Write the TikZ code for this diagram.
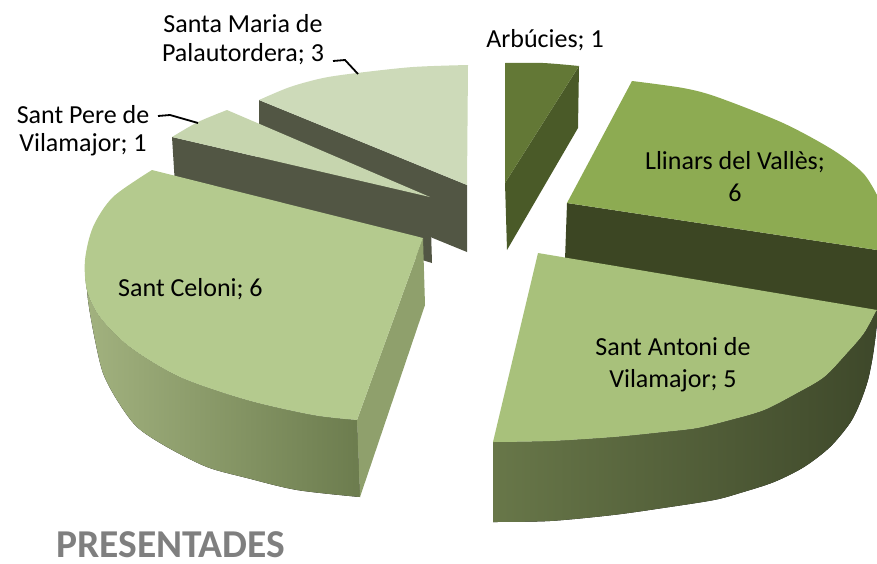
\documentclass[tikz,border=0pt]{standalone}
\usepackage{fontspec}
\setmainfont{Carlito}
\usetikzlibrary{calc}
\definecolor{smTop}{HTML}{CDDAB9}
\definecolor{spTop}{HTML}{C6D5AE}
\definecolor{darkSide}{HTML}{525644}
\definecolor{arbTop}{HTML}{637836}
\definecolor{arbSide}{HTML}{4A5A28}
\definecolor{llTop}{HTML}{8DAB52}
\definecolor{llSide}{HTML}{3C4623}
\definecolor{saTop}{HTML}{A8C17B}
\definecolor{saOutL}{HTML}{687749}
\definecolor{saOutR}{HTML}{3E482A}
\definecolor{scTop}{HTML}{B4CA8E}
\definecolor{scOutL}{HTML}{A2B27F}
\definecolor{scOutR}{HTML}{6C7C4E}
\definecolor{scRad}{HTML}{8FA06C}
\definecolor{titleGray}{HTML}{7F7F7F}
\tikzset{
  lbl/.style={inner sep=0pt, text=black, align=center},
  leader/.style={draw=black, line width=1.8pt},
}
\begin{document}
\begin{tikzpicture}[x=1pt,y=-1pt]
\useasboundingbox (0,0) rectangle (877,563);
\clip (0,0) rectangle (877,563);
% Santa Maria de Palautordera
\fill[darkSide] (259,100) -- (467,185) -- (467,252) -- (259,167) -- cycle;
\fill[smTop] (259,100) -- plot[smooth] coordinates {(259,100) (290,87) (323,78) (357,73) (413,67) (468,65)} -- (467,185) -- cycle;
% Sant Pere de Vilamajor
\fill[darkSide] (172,137) -- (430,197) -- (432,263) -- (175,185) -- cycle;
\fill[spTop] (172,137) -- plot[smooth] coordinates {(172,137) (198,122) (227,110)} -- (430,197) -- cycle;
% Sant Celoni
\fill[left color=scOutL, right color=scOutR] (85,258) -- plot[smooth] coordinates {(85,258) (87,290) (100,317) (130,347) (180,377) (247,400) (313,415) (357,420)} -- (360,497) -- plot[smooth] coordinates {(360,497) (297,490) (247,478) (207,467) (167,447) (137,427) (117,400) (103,373) (95,340) (88,300) (85,258)} -- cycle;
\fill[scRad] (423,238) -- (425,305) -- (360,497) -- (357,420) -- cycle;
\fill[scTop] (152,170) -- plot[smooth] coordinates {(152,170) (113,197) (93,227) (85,260) (87,290) (100,317) (130,347) (180,377) (247,400) (313,415) (357,420)} -- (423,238) -- cycle;
% Arbucies
\fill[arbSide] (579,66) -- (578,128) -- (507,250) -- (505,183) -- cycle;
\fill[arbTop] (505,63) -- plot[smooth] coordinates {(505,63) (543,63) (579,66)} -- (505,183) -- cycle;
% Llinars del Valles
\fill[llSide] (567,203) -- (877,250) -- (877,318) -- (565,260) -- cycle;
\fill[llTop] (632,81) -- plot[smooth] coordinates {(632,81) (683,88) (717,97) (783,123) (833,150) (863,173) (877,195)} -- (877,250) -- (567,203) -- cycle;
% Sant Antoni de Vilamajor
\fill[left color=saOutL, right color=saOutR] (493,442) -- plot[smooth] coordinates {(493,442) (550,441) (613,437) (663,432) (697,428) (730,420) (764,410) (797,393) (824,377) (847,353) (864,333) (876,311)} -- (877,311) -- (877,325) -- plot[smooth] coordinates {(877,325) (873,355) (868,380) (860,403) (850,423) (830,447) (804,467) (774,482) (740,493) (714,500) (663,508) (613,515) (550,521) (493,522)} -- cycle;
\fill[saTop] (538,253) -- (877,310) -- plot[smooth] coordinates {(876,311) (864,333) (847,353) (824,377) (797,393) (764,410) (730,420) (697,428) (663,432) (613,437) (550,441) (493,442)} -- cycle;
% labels
\node[lbl, font=\fontsize{26}{29}\selectfont] (lSM) at (243,40) {Santa Maria de\\Palautordera; 3};
\node[lbl, font=\fontsize{26}{28}\selectfont] (lSP) at (83,131) {Sant Pere de\\Vilamajor; 1};
\node[lbl, font=\fontsize{26}{31}\selectfont, anchor=base] (lArb) at (545,47) {Arbúcies; 1};
\node[lbl, font=\fontsize{26}{32}\selectfont] (lLl) at (735,176.6) {Llinars del Vallès;\\6};
\node[lbl, font=\fontsize{26}{32}\selectfont] (lSA) at (673,364.3) {Sant Antoni de\\Vilamajor; 5};
\node[lbl, font=\fontsize{26}{31}\selectfont, anchor=base west] (lSC) at (118,296) {Sant Celoni; 6};
\node[inner sep=0pt, anchor=base west, text=titleGray, font=\bfseries\fontsize{39.5}{47}\selectfont] (title) at (56,557) {PRESENTADES};
% leader lines
\coordinate (smA) at (333,61);
\coordinate (smB) at (345,60);
\coordinate (smC) at (358,74);
\draw[leader] (smA) -- (smB) -- (smC);
\coordinate (spA) at (158,116);
\coordinate (spB) at (170,115);
\coordinate (spC) at (198,123);
\draw[leader] (spA) -- (spB) -- (spC);
\end{tikzpicture}
\end{document}
